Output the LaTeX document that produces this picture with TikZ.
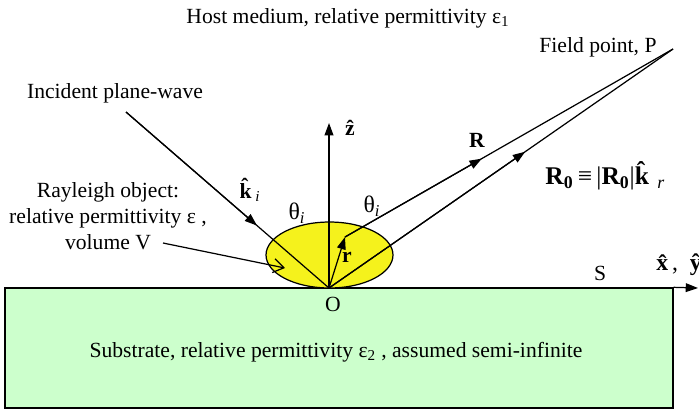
\documentclass[tikz,border=0pt]{standalone}
\usepackage{fontspec}
\setmainfont{Liberation Serif}
\usetikzlibrary{arrows.meta, calc, shapes.geometric}
\definecolor{substrategreen}{RGB}{204,255,204}
\definecolor{objyellow}{RGB}{245,242,28}

\begin{document}
\begin{tikzpicture}[
    x=0.02cm, y=-0.02cm,
    font=\fontsize{12.3}{14.8}\selectfont,
    lbl/.style={inner sep=0pt, align=center},
    vec/.style={inner sep=0pt, font=\fontsize{12.3}{14.8}\selectfont\bfseries},
    ln/.style={line width=0.7pt},
    arr/.style={-{Triangle[length=7pt, width=5pt]}, line width=0.7pt},
    barb/.style={-{Straight Barb[length=6pt, width=8pt]}, line width=0.7pt},
  ]
  \useasboundingbox (0,0) rectangle (699,410);

  \node[draw, line width=0.8pt, fill=substrategreen, minimum width=13.36cm,
        minimum height=2.4cm, inner sep=0pt] (sub) at (339,348) {};
  \node[lbl] (subtext) at (336,352)
    {Substrate, relative permittivity ε\textsubscript{2} , assumed semi-infinite};

  \node[ellipse, draw, ln, fill=objyellow, minimum width=2.54cm,
        minimum height=1.32cm, inner sep=0pt] (obj) at (329.5,255) {};

  \coordinate (O) at (329,288);
  \coordinate (ztip) at (329,123);
  \coordinate (src) at (126,112);
  \coordinate (P) at (673,49);
  \coordinate (rtip) at (345,237);
  \coordinate (xtip) at (698,288);
  \coordinate (vol) at (163,243);
  \coordinate (volin) at (285,268);

  \draw[arr] (sub.north east) -- (xtip);
  \draw[arr] (O) -- (ztip);

  \draw[ln] (src) -- (O);
  \draw[arr] (src) -- ($(src)!0.645!(O)$);

  \draw[arr] (O) -- (rtip);
  \draw[ln] (rtip) -- (P);
  \draw[arr] (rtip) -- ($(rtip)!0.417!(P)$);

  \draw[ln] (O) -- (P);
  \draw[arr] (O) -- ($(O)!0.57!(P)$);

  \draw[barb] (vol) -- (volin);

  \node[lbl] (host) at (348,18) {Host medium, relative permittivity ε\textsubscript{1}};
  \node[lbl] (field) at (598,47) {Field point, P};
  \node[lbl] (incident) at (115,93) {Incident plane-wave};
  \node[lbl] (rayleigh) at (108,216) {Rayleigh object:\\relative permittivity ε ,\\volume V};

  \node[vec] (zlbl) at (350,128) {\^{z}};
  \node[vec] (kilbl) at (250,190) {\^{k}\,\textsubscript{\mdseries\itshape i}};
  \node[lbl, font=\fontsize{13.5}{15}\selectfont] (thleft) at (297,213) {θ\textsubscript{\itshape i}};
  \node[lbl, font=\fontsize{13.5}{15}\selectfont] (thright) at (372,206) {θ\textsubscript{\itshape i}};
  \node[vec] (rlbl) at (347,257) {r};
  \node[vec] (Rlbl) at (477,140) {R};
  \node[vec, anchor=west, font=\fontsize{14.5}{16}\selectfont\bfseries] (Rzero) at (545,176)
    {R\textsubscript{0}\,\mdseries≡\,|\textbf{R\textsubscript{0}}|\textbf{\^{k}}\,\textsubscript{\itshape r}};

  \node[lbl] (slbl) at (600,273) {S};
  \node[vec, anchor=west, font=\fontsize{13.5}{15}\selectfont\bfseries] (xylbl) at (656,265)
    {\^{x}\,\mdseries,\ \ \bfseries\^{y}};
  \node[lbl] (olbl) at (333,304) {O};

\end{tikzpicture}
\end{document}
